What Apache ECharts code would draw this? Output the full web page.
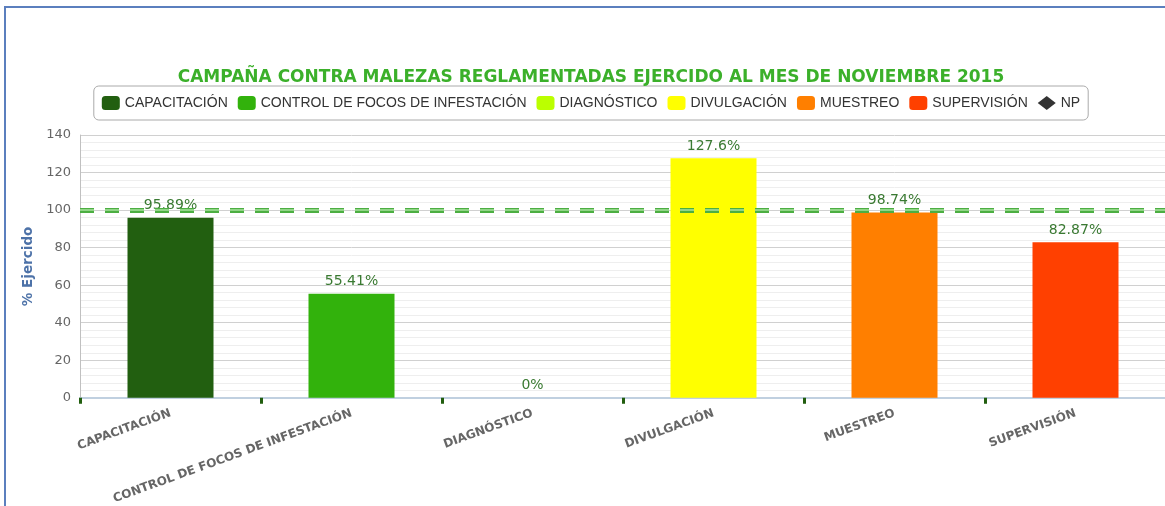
<!DOCTYPE html>
<html>
<head>
<meta charset="utf-8">
<script src="https://cdn.jsdelivr.net/npm/echarts@6/dist/echarts.min.js"></script>
<style>
  html, body { margin: 0; padding: 0; overflow: hidden; background: #fff; }
  #frame { position: absolute; left: 4px; top: 6px; width: 1300px; height: 600px; border-left: 2px solid #5b7fbe; border-top: 2px solid #5b7fbe; }
  #chart { position: absolute; left: 0; top: 0; width: 1182px; height: 506px; }
</style>
</head>
<body>
<div id="frame"></div>
<div id="chart"></div>
<script>
var titleText = 'CAMPAÑA CONTRA MALEZAS REGLAMENTADAS EJERCIDO AL MES DE NOVIEMBRE 2015'
var categories = ['CAPACITACIÓN', 'CONTROL DE FOCOS DE INFESTACIÓN', 'DIAGNÓSTICO', 'DIVULGACIÓN', 'MUESTREO', 'SUPERVISIÓN']
var ejercido = [95.89, 55.41, 0, 127.6, 98.74, 82.87]
var meta = 100
var yTicks = [0, 20, 40, 60, 80, 100, 120, 140]
var barColors = ['#225f10', '#32b20c', '#bbff00', '#ffff00', '#ff7f00', '#ff4000']

var chart = echarts.init(document.getElementById('chart'))

// one series per category so each one gets its own legend entry
var series = categories.map(function (name, i) {
  return {
    name: name,
    type: 'bar',
    stack: 'ejercido',
    barWidth: 86,
    itemStyle: { color: barColors[i] },
    label: {
      show: true,
      position: 'top',
      color: '#3a7a32',
      fontSize: 14,
      formatter: '{c}%'
    },
    data: categories.map(function (c, j) {
      return j === i ? ejercido[i] : '-'
    })
  }
})

// 100% reference line
series[0].markLine = {
  silent: true,
  symbol: 'none',
  label: { show: false },
  lineStyle: { color: '#4cae42', width: 5, type: [14, 11] },
  data: [
    { yAxis: meta },
    { yAxis: meta, lineStyle: { color: '#a8e29e', width: 1.5, type: [14, 11] } }
  ]
}

series.push({
  name: 'NP',
  type: 'line',
  itemStyle: { color: '#333' },
  data: []
})

var legendData = categories.map(function (n) {
  return { name: n, icon: 'roundRect' }
})
legendData.push({ name: 'NP', icon: 'diamond' })

chart.setOption({
  animation: false,
  textStyle: { fontFamily: 'DejaVu Sans' },
  title: {
    text: titleText,
    left: 'center',
    top: 69,
    padding: 0,
    textStyle: { color: '#3bb02a', fontSize: 17, fontWeight: 'bold' }
  },
  legend: {
    data: legendData,
    left: 'center',
    top: 86,
    borderColor: '#aaa',
    borderWidth: 1,
    borderRadius: 5,
    padding: [10, 8],
    itemGap: 10,
    itemWidth: 18,
    itemHeight: 14,
    textStyle: { color: '#333', fontSize: 14, fontFamily: 'Liberation Sans' }
  },
  grid: {
    left: 80,
    right: 16,
    top: 135,
    bottom: 107
  },
  xAxis: {
    type: 'category',
    data: categories,
    axisLine: { lineStyle: { color: '#c0d0e0', width: 2 } },
    axisTick: { show: true, length: 6, lineStyle: { color: '#215e0e', width: 3 } },
    axisLabel: {
      interval: 0,
      rotate: 20,
      margin: 15,
      color: '#666',
      fontWeight: 'bold',
      fontSize: 12
    }
  },
  yAxis: {
    type: 'value',
    min: yTicks[0],
    max: yTicks[yTicks.length - 1],
    interval: yTicks[1] - yTicks[0],
    name: '% Ejercido',
    nameLocation: 'middle',
    nameGap: 45,
    nameTextStyle: { color: '#4d72a8', fontWeight: 'bold', fontSize: 13.5 },
    axisLine: { show: true, lineStyle: { color: '#c0c0c0' } },
    axisTick: { show: false },
    axisLabel: { color: '#666', fontSize: 13, margin: 9 },
    splitLine: { lineStyle: { color: '#d0d0d0' } },
    minorTick: { show: false, splitNumber: 5 },
    minorSplitLine: { show: true, lineStyle: { color: '#eeeeee' } }
  },
  series: series
})
</script>
</body>
</html>
